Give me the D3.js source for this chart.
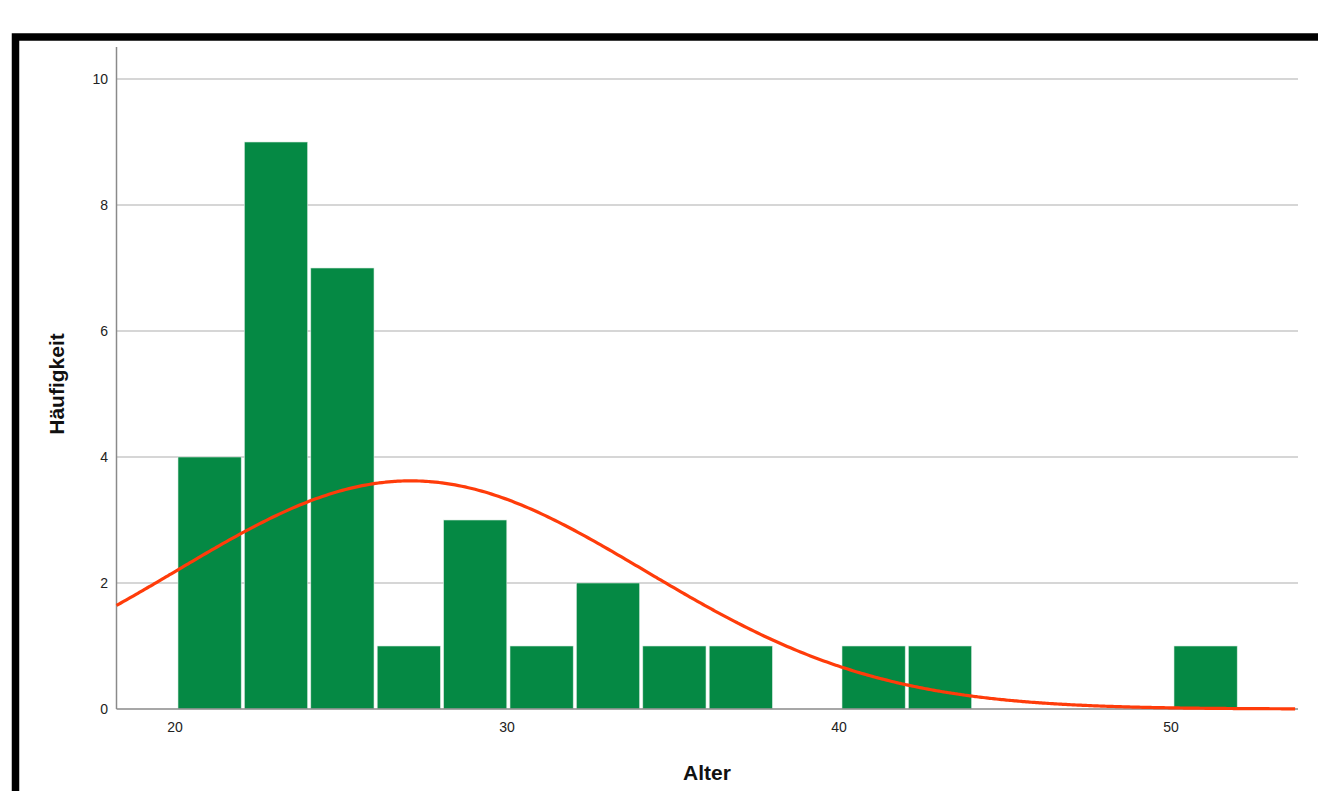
<html>
<head>
    <meta charset="utf-8">
    <script src="https://d3js.org/d3.v7.min.js"></script>
    <style>
        body { margin: 0; background: #fff; }
        text { font-family: "Liberation Sans", Arial, sans-serif; }
    </style>
</head>
<body>
    <script>
        // histogram bins (lower edge) and counts
        var binStarts = [20, 22, 24, 26, 28, 30, 32, 34, 36, 38, 40, 42, 44, 46, 48, 50];
        var binWidth = 2;
        var counts = [4, 9, 7, 1, 3, 1, 2, 1, 1, 0, 1, 1, 0, 0, 0, 1];
        var xTicks = [20, 30, 40, 50];
        var yTicks = [0, 2, 4, 6, 8, 10];

        // normal fit parameters
        var fitMean = 27.05;
        var fitSd = 7.05;
        var fitN = 32;

        var width = 1318, height = 791;
        var svg = d3.select("body").append("svg").attr("width", width).attr("height", height);

        // black frame, running off the right and bottom edge
        svg.append("rect")
            .attr("x", 15.5).attr("y", 37)
            .attr("width", 1400).attr("height", 900)
            .attr("fill", "none").attr("stroke", "#000").attr("stroke-width", 7.5);

        var plotLeft = 116.5, plotRight = 1298, plotTop = 47, plotBottom = 709;

        var x = d3.scaleLinear().domain([20, 30]).range([176.6, 508.6]);
        var y = d3.scaleLinear().domain([0, 10]).range([plotBottom, 79]);

        // gridlines
        svg.selectAll("line.grid").data(yTicks.filter(function(d) { return d > 0; })).enter().append("line")
            .attr("class", "grid")
            .attr("x1", plotLeft).attr("x2", plotRight)
            .attr("y1", function(d) { return y(d); })
            .attr("y2", function(d) { return y(d); })
            .attr("stroke", "#c9c9c9").attr("stroke-width", 1.5);

        // bars
        var bins = binStarts.map(function(s, i) { return { x0: s, x1: s + binWidth, n: counts[i] }; })
            .filter(function(d) { return d.n > 0; });
        svg.selectAll("rect.bar").data(bins).enter().append("rect")
            .attr("class", "bar")
            .attr("x", function(d) { return x(d.x0) + 1.4; })
            .attr("width", function(d) { return x(d.x1) - x(d.x0) - 3.2; })
            .attr("y", function(d) { return y(d.n); })
            .attr("height", function(d) { return y(0) - y(d.n); })
            .attr("fill", "#058944")
            .attr("stroke", "#d8eadf").attr("stroke-width", 0.6);

        // axis lines
        svg.append("line").attr("x1", plotLeft).attr("x2", plotLeft).attr("y1", plotTop).attr("y2", plotBottom)
            .attr("stroke", "#8a8a8a").attr("stroke-width", 1.5);
        svg.append("line").attr("x1", plotLeft).attr("x2", plotRight).attr("y1", plotBottom).attr("y2", plotBottom)
            .attr("stroke", "#8a8a8a").attr("stroke-width", 1.5);

        // normal curve
        var xs = d3.range(x.invert(plotLeft), x.invert(plotRight) + 0.01, 0.1);
        var curve = d3.line()
            .x(function(d) { return x(d); })
            .y(function(d) {
                var z = (d - fitMean) / fitSd;
                return y(fitN * binWidth / (fitSd * Math.sqrt(2 * Math.PI)) * Math.exp(-0.5 * z * z));
            })
            .curve(d3.curveBasis);
        svg.append("path").datum(xs)
            .attr("d", curve)
            .attr("fill", "none").attr("stroke", "#ff3c0a").attr("stroke-width", 3.2);

        // tick labels
        svg.selectAll("text.ytick").data(yTicks).enter().append("text")
            .attr("class", "ytick")
            .attr("x", 108).attr("y", function(d) { return y(d) + 5; })
            .attr("text-anchor", "end").attr("font-size", "14px").attr("fill", "#222")
            .text(function(d) { return d; });

        svg.selectAll("text.xtick").data(xTicks).enter().append("text")
            .attr("class", "xtick")
            .attr("x", function(d) { return x(d) - 1.5; }).attr("y", 732)
            .attr("text-anchor", "middle").attr("font-size", "14px").attr("fill", "#222")
            .text(function(d) { return d; });

        // axis titles
        svg.append("text").attr("x", 707).attr("y", 780)
            .attr("text-anchor", "middle").attr("font-size", "21px").attr("font-weight", "bold").attr("fill", "#111")
            .text("Alter");
        svg.append("text").attr("transform", "translate(64,384) rotate(-90)")
            .attr("text-anchor", "middle").attr("font-size", "21px").attr("font-weight", "bold").attr("fill", "#111")
            .text("Häufigkeit");
    </script>
</body>
</html>
